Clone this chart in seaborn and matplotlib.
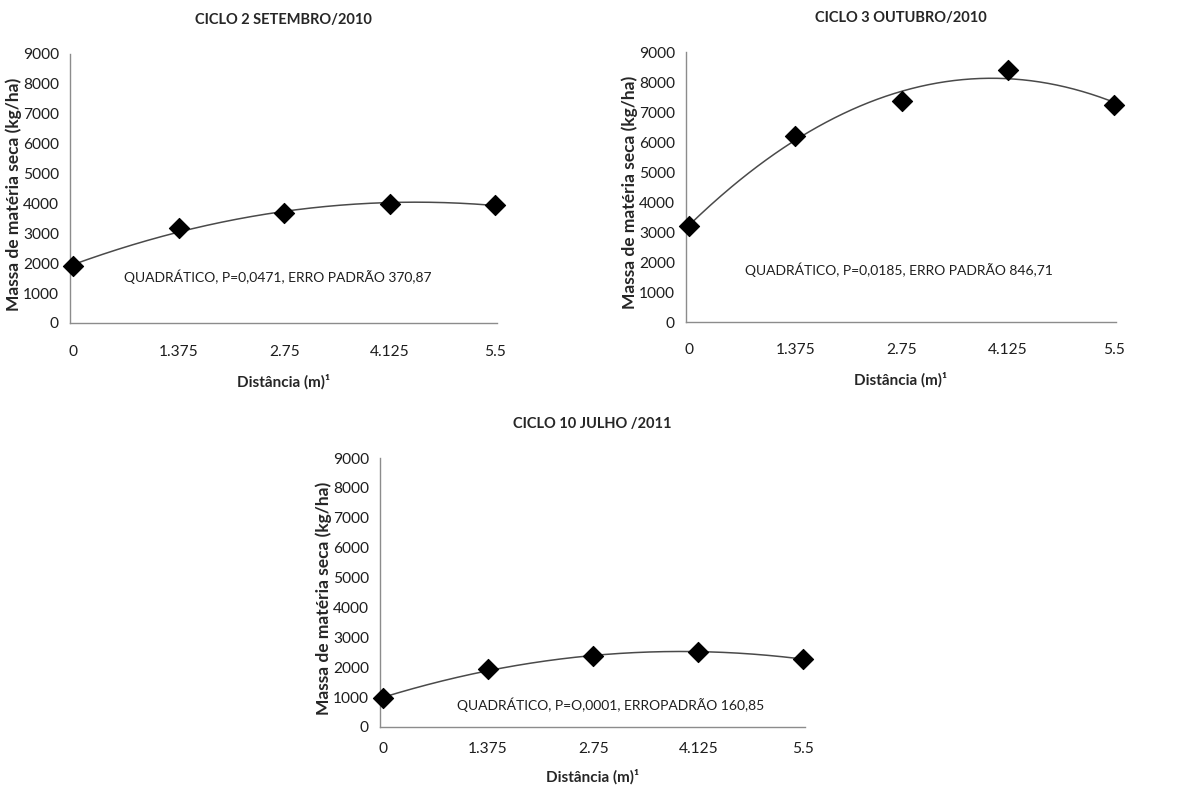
import numpy as np
import pandas as pd
import matplotlib
matplotlib.use("Agg")
import matplotlib.pyplot as plt
import seaborn as sns

# Distances from the tree row (m)
distancia = [0, 1.375, 2.75, 4.125, 5.5]
tick_labels = ["0", "1.375", "2.75", "4.125", "5.5"]

# Dry matter mass (kg/ha) per sampling cycle
ciclo2_set2010 = [1900, 3170, 3670, 3990, 3960]
ciclo3_out2010 = [3210, 6200, 7380, 8390, 7230]
ciclo10_jul2011 = [970, 1940, 2360, 2510, 2280]

titulos = ["CICLO 2 SETEMBRO/2010", "CICLO 3 OUTUBRO/2010", "CICLO 10 JULHO /2011"]
anotacoes = [
    "QUADRÁTICO, P=0,0471, ERRO PADRÃO 370,87",
    "QUADRÁTICO, P=0,0185, ERRO PADRÃO 846,71",
    "QUADRÁTICO, P=O,0001, ERROPADRÃO 160,85",
]
pos_anotacao = [(2.67, 1540), (2.71, 1730), (2.98, 750)]

sns.set_style("white")
plt.rcParams["font.family"] = ["Lato", "DejaVu Sans"]

W, H = 1201, 794
fig = plt.figure(figsize=(W / 100, H / 100), dpi=100)
# panel boxes in pixels: left, right, top, bottom
caixas = [
    (70, 497, 54, 323),
    (686, 1116, 52, 322),
    (380, 805, 458, 727),
]
# tick-label and axis-label spacing below each panel (points)
pad_ticks = [16, 15, 11]
pad_rotulo = [11, 11, 9]
series = [ciclo2_set2010, ciclo3_out2010, ciclo10_jul2011]

for i, ((l, r, t, b), valores, titulo, texto, (tx, ty)) in enumerate(
        zip(caixas, series, titulos, anotacoes, pos_anotacao)):
    ax = fig.add_axes([l / W, 1 - b / H, (r - l) / W, (b - t) / H])
    df = pd.DataFrame({"x": distancia, "y": valores})

    # quadratic regression curve
    coef = np.polyfit(df["x"], df["y"], 2)
    xs = np.linspace(0, 5.5, 200)
    curva = pd.DataFrame({"x": xs, "y": np.polyval(coef, xs)})
    sns.lineplot(data=curva, x="x", y="y", ax=ax, color="#4a4a4a", lw=1.1)

    sns.scatterplot(data=df, x="x", y="y", ax=ax, marker="D", s=105,
                    color="black", edgecolor="black", zorder=3, clip_on=False)

    ax.set_xlim(-0.04, 5.52)
    ax.set_ylim(0, 9000)
    ax.set_xticks(distancia)
    ax.set_xticklabels(tick_labels)
    ax.set_yticks(range(0, 9001, 1000))
    ax.tick_params(axis="both", labelsize=11.2, colors="#1e1e1e", length=0)
    ax.tick_params(axis="y", pad=8)
    ax.tick_params(axis="x", pad=pad_ticks[i])
    for s in ["top", "right"]:
        ax.spines[s].set_visible(False)
    for s in ["left", "bottom"]:
        ax.spines[s].set_color("#8c8c8c")
        ax.spines[s].set_linewidth(1.0)

    ax.set_ylabel("Massa de matéria seca (kg/ha)", fontsize=12.5, fontweight="bold")
    ax.yaxis.set_label_coords(-48 / (r - l), 0.48)
    ax.set_xlabel("Distância (m)¹", fontsize=11, fontweight="bold", labelpad=pad_rotulo[i])
    ax.set_title(titulo, fontsize=10.5, fontweight="bold", pad=21.5)
    ax.text(tx, ty, texto, ha="center", va="center", fontsize=10, color="#1e1e1e")

fig.savefig("out.png", dpi=100, facecolor="white")
